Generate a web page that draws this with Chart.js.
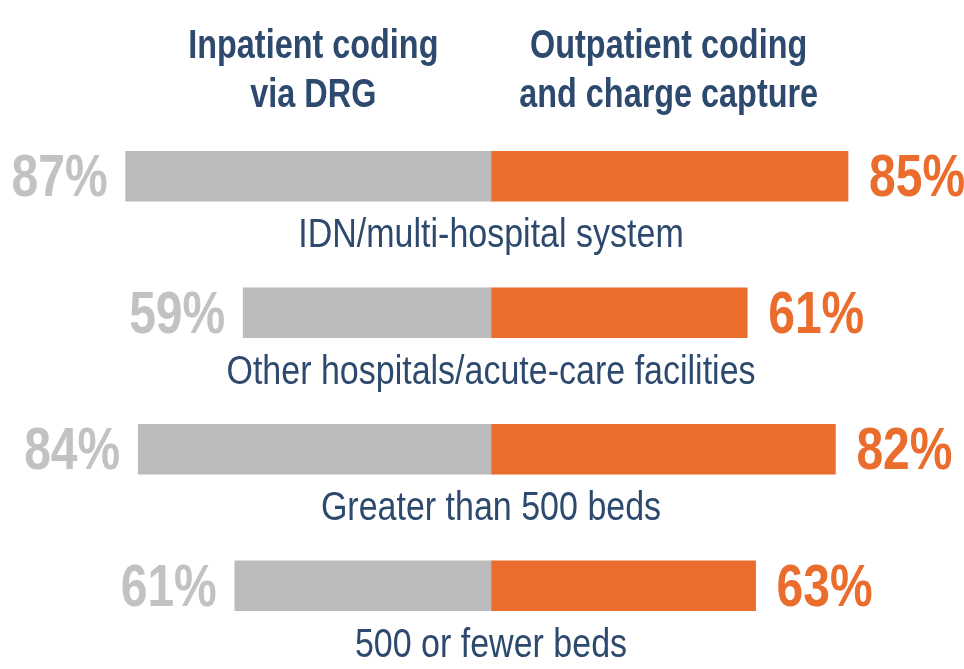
<!DOCTYPE html>
<html>
<head>
<meta charset="utf-8">
<script src="https://cdn.jsdelivr.net/npm/chart.js@4"></script>
<style>
html,body{margin:0;padding:0;background:#fff;}
#wrap{width:964px;height:669px;}
</style>
</head>
<body>
<div id="wrap"><canvas id="c" width="964" height="669"></canvas></div>
<script>
const categories = ["IDN/multi-hospital system", "Other hospitals/acute-care facilities", "Greater than 500 beds", "500 or fewer beds"];
const inpatient = [87, 59, 84, 61];
const outpatient = [85, 61, 82, 63];
const headerLeft = ["Inpatient coding", "via DRG"];
const headerRight = ["Outpatient coding", "and charge capture"];

const GRAY = "#BDBBBC";
const GRAY_TEXT = "#C3C1C2";
const ORANGE = "#EB6D2D";
const NAVY = "#2D4A6E";
const FONT = "'Liberation Sans', Arial, sans-serif";

function drawText(ctx, text, x, y, align, font, color, sx) {
  ctx.save();
  ctx.translate(x, y);
  ctx.scale(sx, 1);
  ctx.font = font;
  ctx.fillStyle = color;
  ctx.textAlign = align;
  ctx.textBaseline = "alphabetic";
  ctx.fillText(text, 0, 0);
  ctx.restore();
}

const labelPlugin = {
  id: "labels",
  afterDatasetsDraw(chart) {
    const ctx = chart.ctx;
    const xs = chart.scales.x;
    const cx = xs.getPixelForValue(0);
    const m0 = chart.getDatasetMeta(0);
    const m1 = chart.getDatasetMeta(1);
    const boldVal = "bold 60px " + FONT;
    const catFont = "40px " + FONT;
    m0.data.forEach((el, i) => {
      drawText(ctx, inpatient[i] + "%", el.x - 18, el.y + 20, "right", boldVal, GRAY_TEXT, 0.8);
      drawText(ctx, categories[i], cx, el.y + 71, "center", catFont, NAVY, 0.85);
    });
    m1.data.forEach((el, i) => {
      drawText(ctx, outpatient[i] + "%", el.x + 21, el.y + 20, "left", boldVal, ORANGE, 0.8);
    });
    const hFont = "bold 40px " + FONT;
    const lx = xs.getPixelForValue(-42.3);
    const rx = xs.getPixelForValue(42.3);
    headerLeft.forEach((t, k) => drawText(ctx, t, lx, 58 + k * 49, "center", hFont, NAVY, 0.81));
    headerRight.forEach((t, k) => drawText(ctx, t, rx, 58 + k * 49, "center", hFont, NAVY, 0.81));
  }
};

new Chart(document.getElementById("c"), {
  type: "bar",
  data: {
    labels: categories,
    datasets: [
      { label: "Inpatient coding via DRG", data: inpatient.map(v => -v), backgroundColor: GRAY, borderWidth: 0, barThickness: 50 },
      { label: "Outpatient coding and charge capture", data: outpatient, backgroundColor: ORANGE, borderWidth: 0, barThickness: 50 }
    ]
  },
  options: {
    indexAxis: "y",
    responsive: false,
    devicePixelRatio: 1,
    animation: false,
    layout: { padding: { left: 71, right: 53, top: 108, bottom: 15 } },
    scales: {
      x: { display: false, min: -100, max: 100, stacked: true },
      y: { display: false, stacked: true }
    },
    plugins: { legend: { display: false }, tooltip: { enabled: false } }
  },
  plugins: [labelPlugin]
});
</script>
</body>
</html>
